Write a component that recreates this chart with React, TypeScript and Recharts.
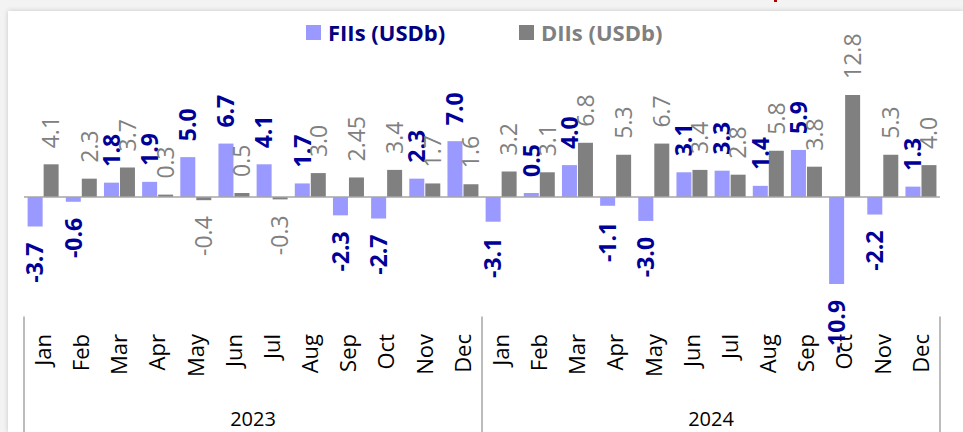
import React from 'react';
import { BarChart, Bar, XAxis, YAxis, ReferenceLine, LabelList } from 'recharts';

const MONTHS = ['Jan', 'Feb', 'Mar', 'Apr', 'May', 'Jun', 'Jul', 'Aug', 'Sep', 'Oct', 'Nov', 'Dec'];
const YEARS = ['2023', '2024'];

const FII_2023 = [-3.7, -0.6, 1.8, 1.9, 5.0, 6.7, 4.1, 1.7, -2.3, -2.7, 2.3, 7.0];
const DII_2023 = [4.1, 2.3, 3.7, 0.3, -0.4, 0.5, -0.3, 3.0, 2.45, 3.4, 1.7, 1.6];
const FII_2024 = [-3.1, 0.5, 4.0, -1.1, -3.0, 3.1, 3.3, 1.4, 5.9, -10.9, -2.2, 1.3];
const DII_2024 = [3.2, 3.1, 6.8, 5.3, 6.7, 3.4, 2.8, 5.8, 3.8, 12.8, 5.3, 4.0];

const FII = [FII_2023, FII_2024];
const DII = [DII_2023, DII_2024];

const data = YEARS.flatMap((year, yi) =>
  MONTHS.map((month, mi) => ({ month, year, fii: FII[yi][mi], dii: DII[yi][mi] }))
);

const W = 963;
const H = 432;
const MARGIN = { top: 77.4, right: 23, bottom: 0, left: 24 };
const AXIS_H = 115.4;
const BAND = (W - MARGIN.left - MARGIN.right) / data.length;

const FII_COLOR = '#9999ff';
const DII_COLOR = '#808080';
const FII_TEXT = '#000099';
const SEP = '#a6a6a6';
const FONT = '"Open Sans", "Noto Sans", sans-serif';

const fmt = (v: number) => (Math.round(v * 10) === v * 10 ? v.toFixed(1) : String(v));

// rotated value label, above the bar when positive, below when negative
const makeLabel = (color: string, bold: boolean) => (p: any) => {
  const vb = p.viewBox ?? p;
  const x = vb.x ?? p.x;
  const y = vb.y ?? p.y;
  const w = vb.width ?? p.width;
  const h = vb.height ?? p.height;
  const v = Number(p.value);
  const cx = x + w / 2;
  const top = Math.min(y, y + h);
  const bottom = Math.max(y, y + h);
  const neg = v < 0;
  const ay = neg ? bottom + 16 : top - 16;
  return (
    <text
      x={cx}
      y={ay}
      dy="0.36em"
      transform={`rotate(-90 ${cx} ${ay})`}
      textAnchor={neg ? 'end' : 'start'}
      fill={color}
      fontSize={23}
      fontWeight={bold ? 700 : 400}
      fontFamily={FONT}
    >
      {fmt(v)}
    </text>
  );
};

const MonthTick = (props: any) => {
  const { x, y, payload, index } = props;
  const ty = y + 17.4;
  const left = x - BAND / 2;
  const right = x + BAND / 2;
  return (
    <g>
      <text
        x={x}
        y={ty}
        dy="0.36em"
        transform={`rotate(-90 ${x} ${ty})`}
        textAnchor="end"
        fill="#000"
        fontSize={22}
        fontFamily={FONT}
      >
        {payload.value}
      </text>
      {index === 0 && <line x1={left} x2={left} y1={y} y2={H} stroke={SEP} strokeWidth={1.5} />}
      {index % 12 === 11 && <line x1={right} x2={right} y1={y} y2={H} stroke={SEP} strokeWidth={1.5} />}
      {index % 12 === 5 && (
        <text x={right} y={y + 109} textAnchor="middle" fill="#000" fontSize={20} fontFamily={FONT}>
          {data[index].year}
        </text>
      )}
    </g>
  );
};

const LegendItem: React.FC<{ color: string; text: string; textColor: string; left: number }> = ({
  color,
  text,
  textColor,
  left,
}) => (
  <div style={{ position: 'absolute', left, top: 18, display: 'flex', alignItems: 'center', height: 28 }}>
    <span style={{ width: 15, height: 15, background: color, display: 'inline-block', marginRight: 7 }} />
    <span style={{ color: textColor, fontFamily: FONT, fontWeight: 700, fontSize: 22, whiteSpace: 'nowrap' }}>
      {text}
    </span>
  </div>
);

export default function App() {
  return (
    <div
      style={{
        position: 'absolute',
        left: 0,
        top: 0,
        width: W,
        height: H,
        background: '#f3f3f3',
        overflow: 'hidden',
      }}
    >
      <div
        style={{
          position: 'absolute',
          left: 8,
          top: 11,
          right: 0,
          bottom: 0,
          background: '#fff',
          boxShadow: '0 0 5px rgba(0,0,0,0.18)',
        }}
      />
      <div style={{ position: 'absolute', left: 774, top: 0, width: 3, height: 2, background: '#b00000' }} />
      <div style={{ position: 'absolute', left: 0, top: 0 }}>
        <BarChart width={W} height={H} data={data} margin={MARGIN} barCategoryGap="9.5%" barGap={1}>
          <XAxis
            dataKey="month"
            height={AXIS_H}
            axisLine={false}
            tickLine={false}
            tickSize={0}
            tickMargin={0}
            interval={0}
            tick={<MonthTick />}
          />
          <YAxis hide domain={[-15, 15]} />
          <Bar dataKey="fii" fill={FII_COLOR} isAnimationActive={false}>
            <LabelList dataKey="fii" content={makeLabel(FII_TEXT, true)} />
          </Bar>
          <Bar dataKey="dii" fill={DII_COLOR} isAnimationActive={false}>
            <LabelList dataKey="dii" content={makeLabel(DII_COLOR, false)} />
          </Bar>
          <ReferenceLine y={0} stroke={SEP} strokeWidth={1.5} />
        </BarChart>
      </div>
      <LegendItem color={FII_COLOR} text="FIIs (USDb)" textColor="#000080" left={306} />
      <LegendItem color={DII_COLOR} text="DIIs (USDb)" textColor={DII_COLOR} left={519} />
    </div>
  );
}
